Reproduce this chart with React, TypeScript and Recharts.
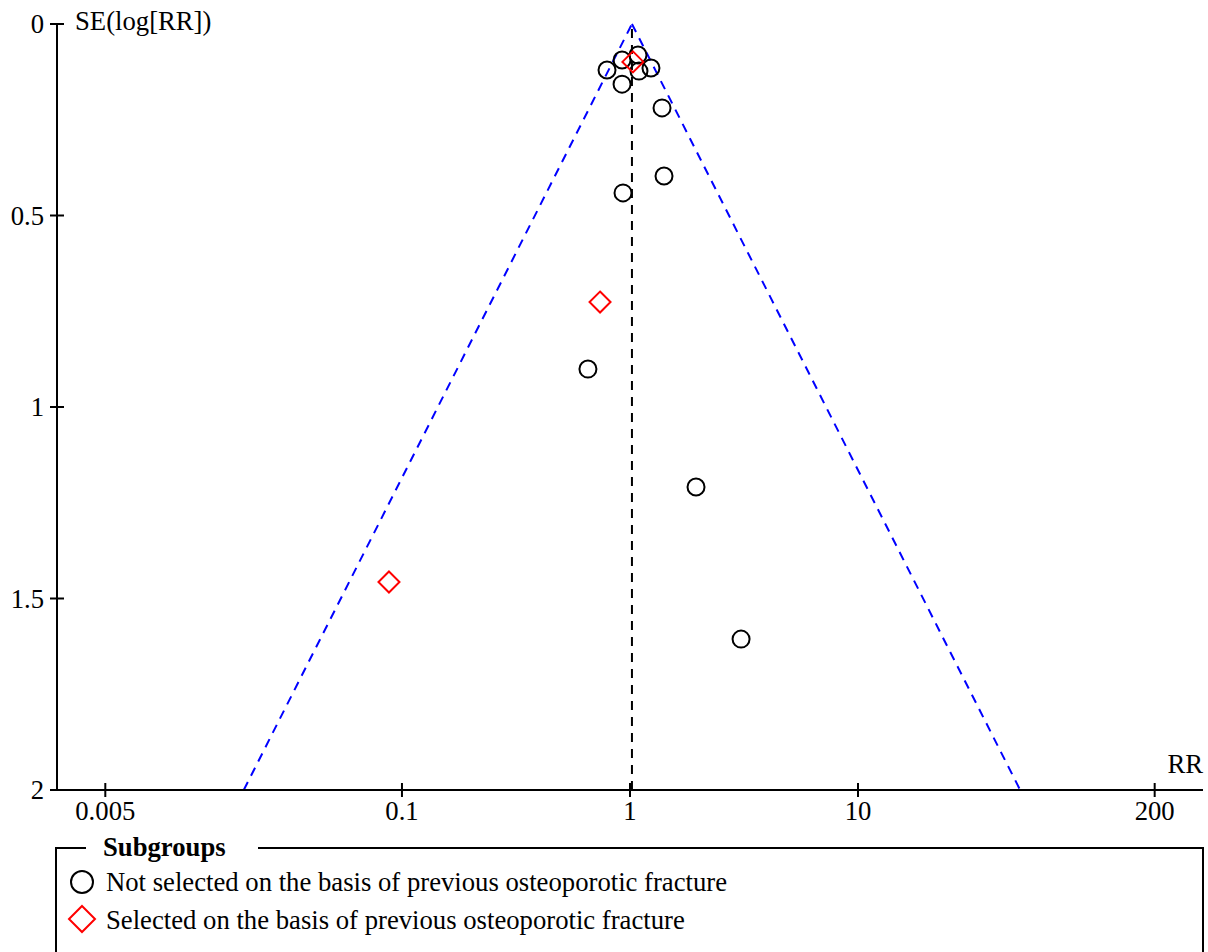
import React from 'react'
import {ScatterChart, Scatter, XAxis, YAxis, ReferenceLine} from 'recharts'

// study estimates: risk ratio and SE(log RR)
const notSelectedRR = [1.084, 0.923, 0.793, 1.095, 1.236, 0.923, 1.382, 1.41, 0.932, 0.654, 1.948, 3.07]
const notSelectedSE = [0.081, 0.094, 0.12, 0.123, 0.115, 0.157, 0.219, 0.397, 0.441, 0.901, 1.209, 1.606]
const selectedRR = [1.03, 0.739, 0.0877]
const selectedSE = [0.099, 0.726, 1.457]

const xTicks = [0.005, 0.1, 1, 10, 200]
const yTicks = [0, 0.5, 1, 1.5, 2]

const POOLED_RR = 1.02
const SE_MAX = 2
const Z = 1.96

const FONT = '"Liberation Serif", "Times New Roman", serif'
const FS = 26.7

const notSelected = notSelectedRR.map((rr, i) => ({rr, se: notSelectedSE[i]}))
const selected = selectedRR.map((rr, i) => ({rr, se: selectedSE[i]}))

const funnelLow = POOLED_RR * Math.exp(-Z * SE_MAX)
const funnelHigh = POOLED_RR * Math.exp(Z * SE_MAX)

const CircleShape = (p: any) => (
    <circle cx={p.cx} cy={p.cy} r={8.5} fill="none" stroke="#000" strokeWidth={2}/>
)

const DiamondShape = (p: any) => {
    const h = 10.5
    return (
        <polygon
            points={`${p.cx},${p.cy - h} ${p.cx + h},${p.cy} ${p.cx},${p.cy + h} ${p.cx - h},${p.cy}`}
            fill="none" stroke="#ff0000" strokeWidth={2}/>
    )
}

const XTick = (p: any) => (
    <g>
        <line x1={p.x} x2={p.x} y1={p.y - 7} y2={p.y + 7} stroke="#000" strokeWidth={2}/>
        <text x={p.x} y={p.y + 30} textAnchor="middle" fontFamily={FONT} fontSize={FS} fill="#000">
            {p.payload.value}
        </text>
    </g>
)

const YTick = (p: any) => (
    <g>
        <line x1={p.x - 7} x2={p.x + 7} y1={p.y} y2={p.y} stroke="#000" strokeWidth={2}/>
        <text x={p.x - 13} y={p.y + 9} textAnchor="end" fontFamily={FONT} fontSize={FS} fill="#000">
            {p.payload.value}
        </text>
    </g>
)

export default function App() {
    return (
        <div style={{position: 'absolute', left: 0, top: 0, width: 1208, height: 952, overflow: 'hidden', background: '#fff'}}>
            <ScatterChart width={1208} height={952} margin={{top: 24, right: 5, bottom: 102, left: 0}}>
                <XAxis
                    type="number"
                    dataKey="rr"
                    scale="log"
                    domain={[0.00307, 325.8]}
                    allowDataOverflow
                    ticks={xTicks}
                    interval={0}
                    height={60}
                    tickSize={0}
                    tickMargin={0}
                    tickLine={false}
                    tick={<XTick/>}
                    axisLine={{stroke: '#000', strokeWidth: 2}}
                />
                <YAxis
                    type="number"
                    dataKey="se"
                    reversed
                    domain={[0, SE_MAX]}
                    ticks={yTicks}
                    interval={0}
                    width={57}
                    tickSize={0}
                    tickMargin={0}
                    tickLine={false}
                    tick={<YTick/>}
                    axisLine={{stroke: '#000', strokeWidth: 2}}
                />
                <ReferenceLine
                    segment={[{x: funnelLow, y: SE_MAX}, {x: POOLED_RR, y: 0}]}
                    stroke="#0000ff" strokeWidth={2} strokeDasharray="9 7"
                />
                <ReferenceLine
                    segment={[{x: POOLED_RR, y: 0}, {x: funnelHigh, y: SE_MAX}]}
                    stroke="#0000ff" strokeWidth={2} strokeDasharray="9 7"
                />
                <ReferenceLine x={POOLED_RR} stroke="#000" strokeWidth={2} strokeDasharray="9 7"/>
                <Scatter data={notSelected} shape={CircleShape} isAnimationActive={false}/>
                <Scatter data={selected} shape={DiamondShape} isAnimationActive={false}/>
            </ScatterChart>
            <svg width={1208} height={952} style={{position: 'absolute', left: 0, top: 0, pointerEvents: 'none'}}>
                <text x={75} y={30} fontFamily={FONT} fontSize={FS} fill="#000">SE(log[RR])</text>
                <text x={1203} y={773} textAnchor="end" fontFamily={FONT} fontSize={FS} fill="#000">RR</text>
                <path d="M86,848 H56 V960 M258,848 H1203 V960" fill="none" stroke="#000" strokeWidth={2}/>
                <text x={103} y={856} fontFamily={FONT} fontSize={FS} fontWeight="bold" fill="#000">Subgroups</text>
                <circle cx={82} cy={882} r={11} fill="none" stroke="#000" strokeWidth={2}/>
                <text x={106} y={891} fontFamily={FONT} fontSize={FS} fill="#000">
                    Not selected on the basis of previous osteoporotic fracture
                </text>
                <polygon points="82,906 95,919 82,932 69,919" fill="none" stroke="#ff0000" strokeWidth={2}/>
                <text x={106} y={929} fontFamily={FONT} fontSize={FS} fill="#000">
                    Selected on the basis of previous osteoporotic fracture
                </text>
            </svg>
        </div>
    )
}
